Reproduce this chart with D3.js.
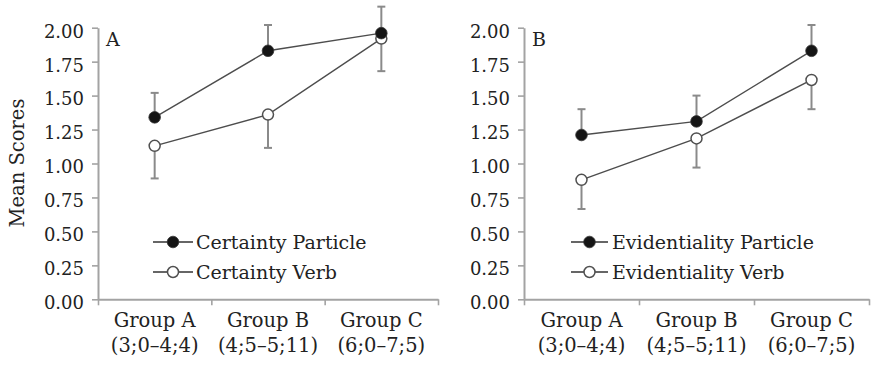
<!DOCTYPE html>
<html>
<head>
<meta charset="utf-8">
<script src="https://cdn.jsdelivr.net/npm/d3@7"></script>
<style>
  html, body { margin: 0; padding: 0; background: #fff; }
  svg { display: block; }
  text { font-family: "DejaVu Serif", "Liberation Serif", serif; fill: #222; }
</style>
</head>
<body>
<svg id="chart" width="871" height="367"></svg>
<script>
// ---- data ----
const groups = ["Group A", "Group B", "Group C"];
const ageRanges = ["(3;0\u20134;4)", "(4;5\u20135;11)", "(6;0\u20137;5)"];
const yTicks = [0, 0.25, 0.5, 0.75, 1.0, 1.25, 1.5, 1.75, 2.0];

const panelLetters = ["A", "B"];
const particleNames = ["Certainty Particle", "Evidentiality Particle"];
const verbNames = ["Certainty Verb", "Evidentiality Verb"];

// Panel A
const certaintyParticle = [1.34, 1.83, 1.96];
const certaintyParticleErrTop = [1.52, 2.02, 2.155];
const certaintyVerb = [1.13, 1.36, 1.92];
const certaintyVerbErrBottom = [0.89, 1.115, 1.68];

// Panel B
const evidentialityParticle = [1.21, 1.31, 1.83];
const evidentialityParticleErrTop = [1.40, 1.50, 2.02];
const evidentialityVerb = [0.88, 1.185, 1.615];
const evidentialityVerbErrBottom = [0.665, 0.97, 1.40];

// ---- layout ----
const svg = d3.select("#chart");
const yTop = 27.7, yBottom = 299.3;
const panels = [
  { x0: 98, x1: 438, letter: panelLetters[0],
    particle: certaintyParticle, particleErr: certaintyParticleErrTop,
    verb: certaintyVerb, verbErr: certaintyVerbErrBottom,
    pName: particleNames[0], vName: verbNames[0],
    legX: 153, legLen: 40, legTextX: 196 },
  { x0: 524, x1: 869, letter: panelLetters[1],
    particle: evidentialityParticle, particleErr: evidentialityParticleErrTop,
    verb: evidentialityVerb, verbErr: evidentialityVerbErrBottom,
    pName: particleNames[1], vName: verbNames[1],
    legX: 571, legLen: 37, legTextX: 612 }
];

const y = d3.scaleLinear().domain([0, 2]).range([yBottom, yTop]);
const axisColor = "#a3a3a3";
const lineColor = "#4d4d4d";
const errColor = "#8a8a8a";

panels.forEach(p => {
  const g = svg.append("g");
  const x = d3.scaleBand().domain(groups).range([p.x0, p.x1]).paddingInner(0).paddingOuter(0);
  const xb = d3.scaleLinear().domain([0, 3]).range([p.x0, p.x1]);
  const cx = d => x(d) + x.bandwidth() / 2;

  // y axis
  const ya = g.append("g").attr("transform", `translate(${p.x0},0)`)
    .call(d3.axisLeft(y).tickValues(yTicks).tickFormat(d3.format(".2f")).tickSize(6).tickSizeOuter(0).tickPadding(8));
  ya.select(".domain").attr("stroke", axisColor).attr("stroke-width", 2);
  ya.selectAll(".tick line").attr("stroke", axisColor).attr("stroke-width", 1.6);
  ya.selectAll(".tick text").attr("font-size", 18).attr("font-family", "DejaVu Serif")
    .attr("fill", "#222").attr("dy", "0.52em");

  // x axis
  const xa = g.append("g").attr("transform", `translate(0,${yBottom})`)
    .call(d3.axisBottom(xb).tickValues([0, 1, 2, 3]).tickFormat("").tickSize(6).tickSizeOuter(0));
  xa.select(".domain").attr("stroke", axisColor).attr("stroke-width", 2);
  xa.selectAll(".tick line").attr("stroke", axisColor).attr("stroke-width", 1.6);

  // x labels
  groups.forEach((grp, i) => {
    g.append("text").attr("x", cx(grp)).attr("y", 327).attr("text-anchor", "middle")
      .attr("font-size", 19.5).text(grp);
    g.append("text").attr("x", cx(grp)).attr("y", 352).attr("text-anchor", "middle")
      .attr("font-size", 19.5).text(ageRanges[i]);
  });

  // panel letter
  g.append("text").attr("x", p.x0 + 8).attr("y", 46).attr("font-size", 19).text(p.letter);

  // error bars
  const capW = 4;
  const drawErr = (vals, ends) => {
    groups.forEach((grp, i) => {
      const xx = cx(grp);
      g.append("line").attr("x1", xx).attr("x2", xx).attr("y1", y(vals[i])).attr("y2", y(ends[i]))
        .attr("stroke", errColor).attr("stroke-width", 2);
      g.append("line").attr("x1", xx - capW).attr("x2", xx + capW).attr("y1", y(ends[i])).attr("y2", y(ends[i]))
        .attr("stroke", errColor).attr("stroke-width", 2);
    });
  };
  drawErr(p.particle, p.particleErr);
  drawErr(p.verb, p.verbErr);

  // lines
  const line = d3.line().x((d, i) => cx(groups[i])).y(d => y(d));
  g.append("path").attr("d", line(p.verb)).attr("fill", "none").attr("stroke", lineColor).attr("stroke-width", 1.4);
  g.append("path").attr("d", line(p.particle)).attr("fill", "none").attr("stroke", lineColor).attr("stroke-width", 1.4);

  // markers
  g.selectAll(null).data(p.verb).enter().append("circle")
    .attr("cx", (d, i) => cx(groups[i])).attr("cy", d => y(d)).attr("r", 5.5)
    .attr("fill", "#fff").attr("stroke", "#505050").attr("stroke-width", 1.5);
  g.selectAll(null).data(p.particle).enter().append("circle")
    .attr("cx", (d, i) => cx(groups[i])).attr("cy", d => y(d)).attr("r", 5.8)
    .attr("fill", "#151515").attr("stroke", "#333").attr("stroke-width", 0.8);

  // legend
  const legRows = [
    { name: p.pName, filled: true, yy: 242 },
    { name: p.vName, filled: false, yy: 272 }
  ];
  legRows.forEach(r => {
    g.append("line").attr("x1", p.legX).attr("x2", p.legX + p.legLen).attr("y1", r.yy).attr("y2", r.yy)
      .attr("stroke", "#333").attr("stroke-width", 1.5);
    g.append("circle").attr("cx", p.legX + p.legLen / 2).attr("cy", r.yy).attr("r", r.filled ? 5.8 : 5.5)
      .attr("fill", r.filled ? "#151515" : "#fff").attr("stroke", r.filled ? "#333" : "#505050")
      .attr("stroke-width", r.filled ? 0.8 : 1.5);
    g.append("text").attr("x", p.legTextX).attr("y", r.yy + 7).attr("font-size", 19).text(r.name);
  });
});

// y title
svg.append("text").attr("transform", "translate(24,163) rotate(-90)")
  .attr("text-anchor", "middle").attr("font-size", 19.5).text("Mean Scores");
</script>
</body>
</html>
